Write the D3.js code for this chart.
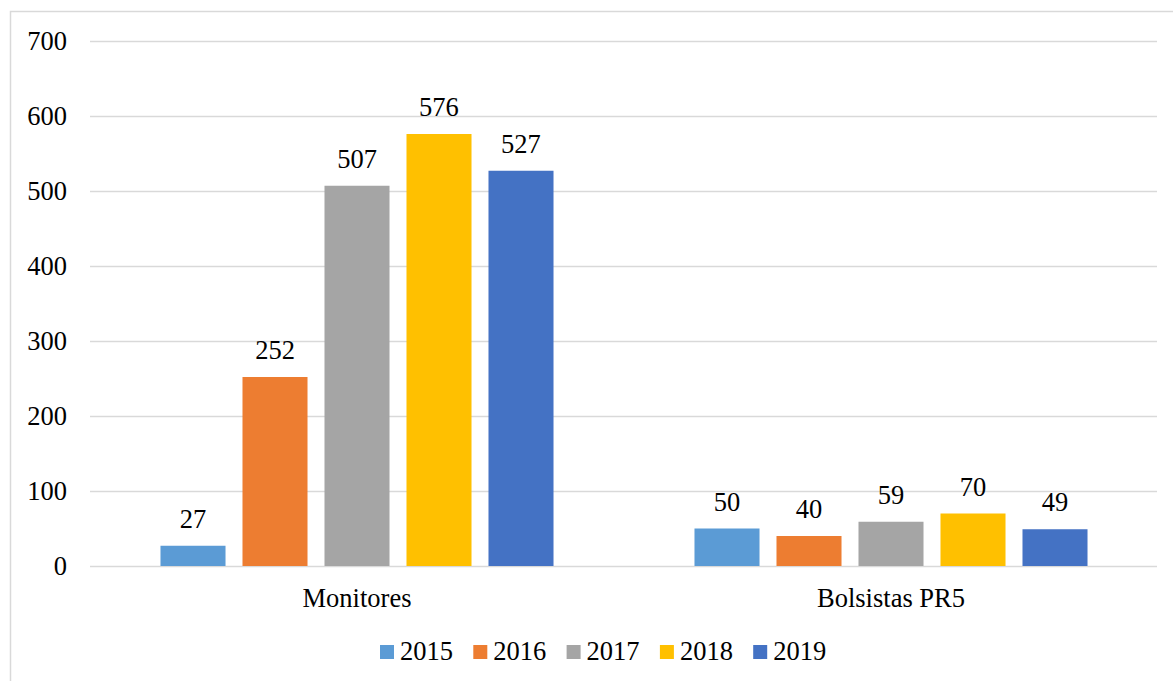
<!DOCTYPE html>
<html><head><meta charset="utf-8">
<script src="https://cdn.jsdelivr.net/npm/d3@7"></script>
<style>body{margin:0;background:#fff}svg{display:block}</style>
</head><body>
<svg id="c" width="1173" height="681"></svg>
<script>
const categories = ["Monitores", "Bolsistas PR5"];
const years = ["2015", "2016", "2017", "2018", "2019"];
const values = {
  "2015": [27, 50],
  "2016": [252, 40],
  "2017": [507, 59],
  "2018": [576, 70],
  "2019": [527, 49]
};
const colors = ["#5B9BD5", "#ED7D31", "#A5A5A5", "#FFC000", "#4472C4"];
const yTicks = [0, 100, 200, 300, 400, 500, 600, 700];

const FONT = '"Liberation Serif", "Times New Roman", serif';
const FS = 26.5;

const svg = d3.select("#c");
svg.append("rect").attr("x", 10.5).attr("y", 11.5).attr("width", 1300).attr("height", 800)
  .attr("fill", "none").attr("stroke", "#d9d9d9").attr("stroke-width", 1.5);

const y = d3.scaleLinear().domain([0, 700]).range([566, 41]);
const x0 = d3.scaleBand().domain(categories).range([90, 1158]).paddingInner(0.264).paddingOuter(0.132);
const x1 = d3.scaleBand().domain(years).range([0, x0.bandwidth()]).paddingInner(0.207);
const color = d3.scaleOrdinal().domain(years).range(colors);

// gridlines
const yAxis = d3.axisLeft(y).tickValues(yTicks).tickSize(-(1157 - 90)).tickPadding(23);
const ga = svg.append("g").attr("transform", "translate(90,0)").call(yAxis);
ga.select(".domain").remove();
ga.selectAll(".tick line").attr("stroke", "#d9d9d9").attr("stroke-width", 1.5);
ga.selectAll(".tick text").style("font-size", FS + "px").style("font-family", FONT).attr("fill", "#000");

// bars
const data = [];
categories.forEach((c, ci) => years.forEach(yr => data.push({ c, yr, v: values[yr][ci] })));
svg.append("g").selectAll("rect").data(data).join("rect")
  .attr("x", d => x0(d.c) + x1(d.yr))
  .attr("y", d => y(d.v))
  .attr("width", x1.bandwidth())
  .attr("height", d => y(0) - y(d.v))
  .attr("fill", d => color(d.yr));

svg.append("g").selectAll("text").data(data).join("text")
  .attr("x", d => x0(d.c) + x1(d.yr) + x1.bandwidth() / 2)
  .attr("y", d => y(d.v) - 18)
  .attr("text-anchor", "middle")
  .style("font-size", FS + "px").style("font-family", FONT).attr("fill", "#000")
  .text(d => d.v);

// x axis labels
const xAxis = d3.axisBottom(x0).tickSize(0).tickPadding(22);
const gx = svg.append("g").attr("transform", "translate(0,566)").call(xAxis);
gx.select(".domain").remove();
gx.selectAll(".tick text").style("font-size", FS + "px").style("font-family", FONT).attr("fill", "#000");

// legend
const lx = d3.scaleBand().domain(years).range([380, 380 + 93.3 * 5]);
const lg = svg.append("g").selectAll("g").data(years).join("g")
  .attr("transform", d => `translate(${lx(d)},645)`);
lg.append("rect").attr("width", 14).attr("height", 14).attr("fill", d => color(d));
lg.append("text").attr("x", 20).attr("y", 14.5)
  .style("font-size", FS + "px").style("font-family", FONT).attr("fill", "#000").text(d => d);
</script>
</body></html>
